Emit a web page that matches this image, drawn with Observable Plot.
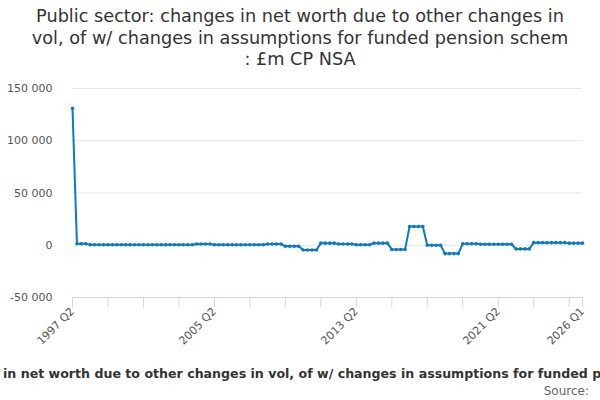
<!DOCTYPE html>
<html><head><meta charset="utf-8">
<script src="https://cdn.jsdelivr.net/npm/d3@7"></script>
<script src="https://cdn.jsdelivr.net/npm/@observablehq/plot@0.6"></script>
<style>
body{margin:0;width:600px;height:400px;overflow:hidden;background:#fff;font-family:"DejaVu Sans",sans-serif;position:relative}
#title{position:absolute;top:6px;left:0;width:600px;text-align:center;font-size:17.7px;line-height:21.7px;color:#333}
#chart{position:absolute;top:75px;left:0}
#axtitle{position:absolute;top:366px;left:0;width:600px;overflow:hidden;white-space:nowrap;font-size:12.6px;font-weight:bold;color:#333}
#source{position:absolute;top:384px;right:11px;font-size:12px;color:#666}
</style></head><body>
<div id="title">Public sector: changes in net worth due to other changes in<br>vol, of w/ changes in assumptions for funded pension schem<br>: £m CP NSA</div>
<div id="chart"></div>
<div id="axtitle"><span id="inner"><span id="pre">Public sector: changes </span>in net worth due to other changes in vol, of w/ changes in assumptions for funded pension schem : £m CP NSA</span></div>
<div id="source">Source:</div>
<script>
const values = [
131000, 1500, 1500, 1500, 500, 500, 500, 500, 500, 500, 500, 500, 500, 500, 500, 500,
500, 500, 500, 500, 500, 500, 500, 500, 500, 500, 500, 500, 1200, 1200, 1200, 1200,
500, 500, 500, 500, 500, 500, 500, 500, 500, 500, 500, 500, 1200, 1200, 1200, 1200,
-1000, -1000, -1000, -1000, -4500, -4500, -4500, -4500, 2000, 2000, 2000, 2000, 1200, 1200, 1200, 1200,
500, 500, 500, 500, 2000, 2000, 2000, 2000, -4000, -4000, -4000, -4000, 18000, 18000, 18000, 18000,
0, 0, 0, 0, -8000, -8000, -8000, -8000, 1500, 1500, 1500, 1500, 1000, 1000, 1000, 1000,
1000, 1000, 1000, 1000, -3500, -3500, -3500, -3500, 2500, 2500, 2500, 2500, 2500, 2500, 2500, 2500,
2000, 2000, 2000, 2000
];
const startYear = 1997, startQ = 2;
const quarters = values.map((_, i) => {
  const q = startQ - 1 + i;
  return `${startYear + Math.floor(q / 4)} Q${(q % 4) + 1}`;
});
const tickQuarters = quarters.filter((_, i) => i % 8 === 0).concat([quarters[quarters.length - 1]]);
const labelQuarters = ["1997 Q2", "2005 Q2", "2013 Q2", "2021 Q2", "2026 Q1"];
const yTicks = [-50000, 0, 50000, 100000, 150000];
const data = values.map((v, i) => ({q: quarters[i], v}));
const fmt = d => (d < 0 ? "-" : "") + d3.format(",")(Math.abs(d)).replace(/,/g, " ");
const color = "#0a7bc1";

const chart = Plot.plot({
  width: 600, height: 280,
  marginLeft: 72, marginRight: 18, marginTop: 13, marginBottom: 58,
  style: {fontFamily: "DejaVu Sans, sans-serif", fontSize: "11px", color: "#555"},
  x: {type: "point", domain: quarters, padding: 0},
  y: {domain: [-50000, 150000]},
  marks: [
    Plot.gridY(yTicks.filter(d => d > -50000), {stroke: "#e6e6e6", strokeOpacity: 1}),
    Plot.axisY({ticks: yTicks, tickFormat: fmt, tickSize: 0, tickPadding: 20, label: null, fontSize: 11}),
    Plot.ruleY([-50000], {stroke: "#ccd6eb"}),
    Plot.axisX({ticks: tickQuarters, tickFormat: d => labelQuarters.includes(d) ? d : "", tickSize: 10, stroke: "#ccd6eb", tickRotate: -45, tickPadding: 2, label: null, fontSize: 11}),
    Plot.line(data, {x: "q", y: "v", stroke: color, strokeWidth: 2}),
    Plot.dot(data, {x: "q", y: "v", fill: color, r: 1.8})
  ]
});
document.getElementById("chart").append(chart);
const pre = document.getElementById("pre");
document.getElementById("inner").style.marginLeft = (3 - pre.getBoundingClientRect().width) + "px";
document.getElementById("inner").style.display = "inline-block";
</script>
</body></html>
